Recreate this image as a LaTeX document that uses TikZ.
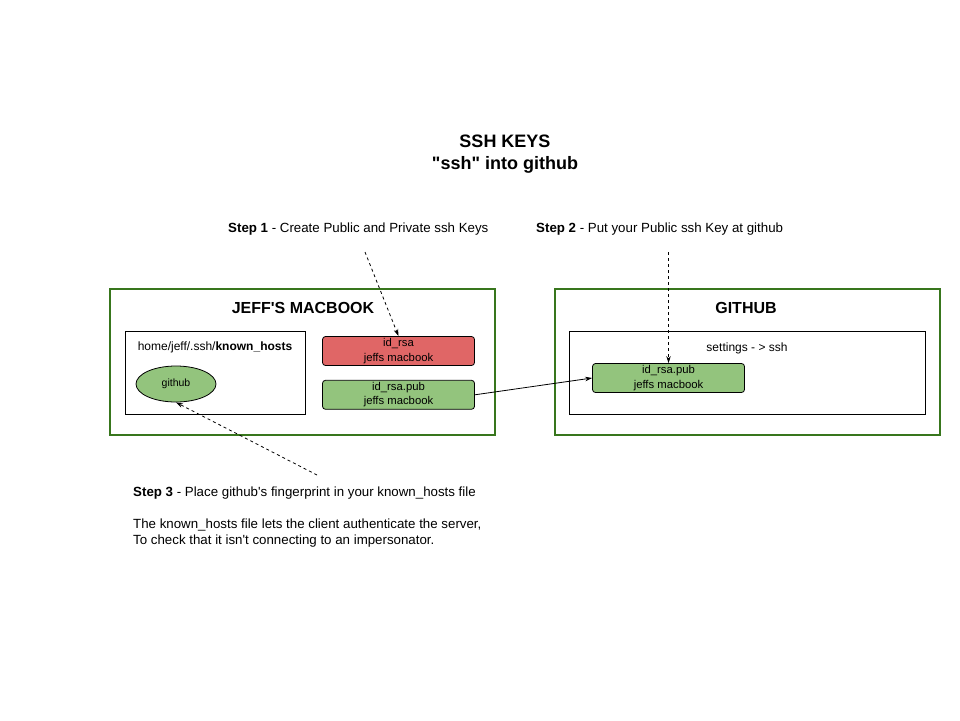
\documentclass[tikz,border=0pt]{standalone}
\usepackage{fontspec}
\setmainfont{Liberation Sans}
\newfontfamily\drawfont{Liberation Sans}
\usepackage{tikz}
\usetikzlibrary{positioning,arrows.meta,shapes.geometric}

\definecolor{boxgreen}{HTML}{38761D}
\definecolor{keygreen}{HTML}{93C47D}
\definecolor{keyred}{HTML}{E06666}

\begin{document}
\begin{tikzpicture}[
    x=1pt, y=-1pt,
    >={Stealth[length=7pt,width=4.5pt]},
    machinebox/.style={rectangle, draw=boxgreen, line width=2pt, minimum width=385pt, minimum height=146pt},
    folderbox/.style={rectangle, draw=black, line width=0.8pt, minimum height=83pt},
    keynode/.style={rectangle, rounded corners=3pt, draw=black, line width=0.8pt, fill=keygreen, minimum width=152pt, minimum height=29pt, align=center, inner sep=0pt, font=\fontsize{11.3}{14.5}\selectfont},
    privnode/.style={keynode, fill=keyred},
    hostnode/.style={ellipse, draw=black, line width=0.8pt, fill=keygreen, minimum width=80pt, minimum height=36pt, inner sep=0pt, font=\fontsize{10.5}{12}\selectfont},
    machinename/.style={font=\fontsize{16}{18}\selectfont\bfseries},
    steptext/.style={anchor=west, inner sep=0pt, font=\fontsize{13.3}{16}\selectfont},
  ]
  \drawfont
  \useasboundingbox[fill=white] (0,0) rectangle (960,720);

  \node[align=center, font=\fontsize{18}{22}\selectfont\bfseries] (title) at (505,154) {SSH KEYS\\"ssh" into github};

  \node[steptext] (step1) at (228,229) {\textbf{Step 1} - Create Public and Private ssh Keys};
  \node[steptext] (step2) at (536,229) {\textbf{Step 2} - Put your Public ssh Key at github};

  % jeff's macbook
  \node[machinebox] (mac)      at (302.5,362)          {};
  \node[machinename] (macname) at (303,308)            {JEFF'S MACBOOK};
  \node[folderbox, minimum width=180pt] (sshdir) at (215,372.5) {};
  \node[font=\fontsize{12}{14}\selectfont] (sshpath) at (215,347) {home/jeff/.ssh/\textbf{known\_hosts}};
  \node[hostnode]  (known)     at (176,384)            {github};
  \node[privnode]  (idrsa)     at (398.5,351)          {id\_rsa\\jeffs macbook};
  \node[keynode]   (idpub)     [below=14pt of idrsa]   {id\_rsa.pub\\jeffs macbook};

  % github
  \node[machinebox] (gh)       at (747,362)            {};
  \node[machinename] (ghname)  at (746,308)            {GITHUB};
  \node[folderbox, minimum width=356pt] (settings) at (747,372.5) {};
  \node[font=\fontsize{12}{14}\selectfont] (setlabel) at (747,348) {settings - > ssh};
  \node[keynode]   (ghpub)     at (668.5,378)          {id\_rsa.pub\\jeffs macbook};

  \draw[->, line width=0.8pt] (idpub.east) -- (ghpub.west);

  \coordinate (s1tail) at (365,252);
  \coordinate (s2tail) at (668.5,252);
  \coordinate (s3tail) at (317,475);
  \draw[->, dashed, line width=0.8pt] (s1tail) -- (idrsa.north);
  \draw[->, dashed, line width=0.8pt] (s2tail) -- (ghpub.north);
  \draw[->, dashed, line width=0.8pt] (s3tail) -- (known.south);

  \node[anchor=north west, inner sep=0pt, align=left, font=\fontsize{13.3}{16}\selectfont] (step3) at (133,486.5)
    {\textbf{Step 3} - Place github's fingerprint in your known\_hosts file\\[16pt]
     The known\_hosts file lets the client authenticate the server,\\
     To check that it isn't connecting to an impersonator.};
\end{tikzpicture}
\end{document}
